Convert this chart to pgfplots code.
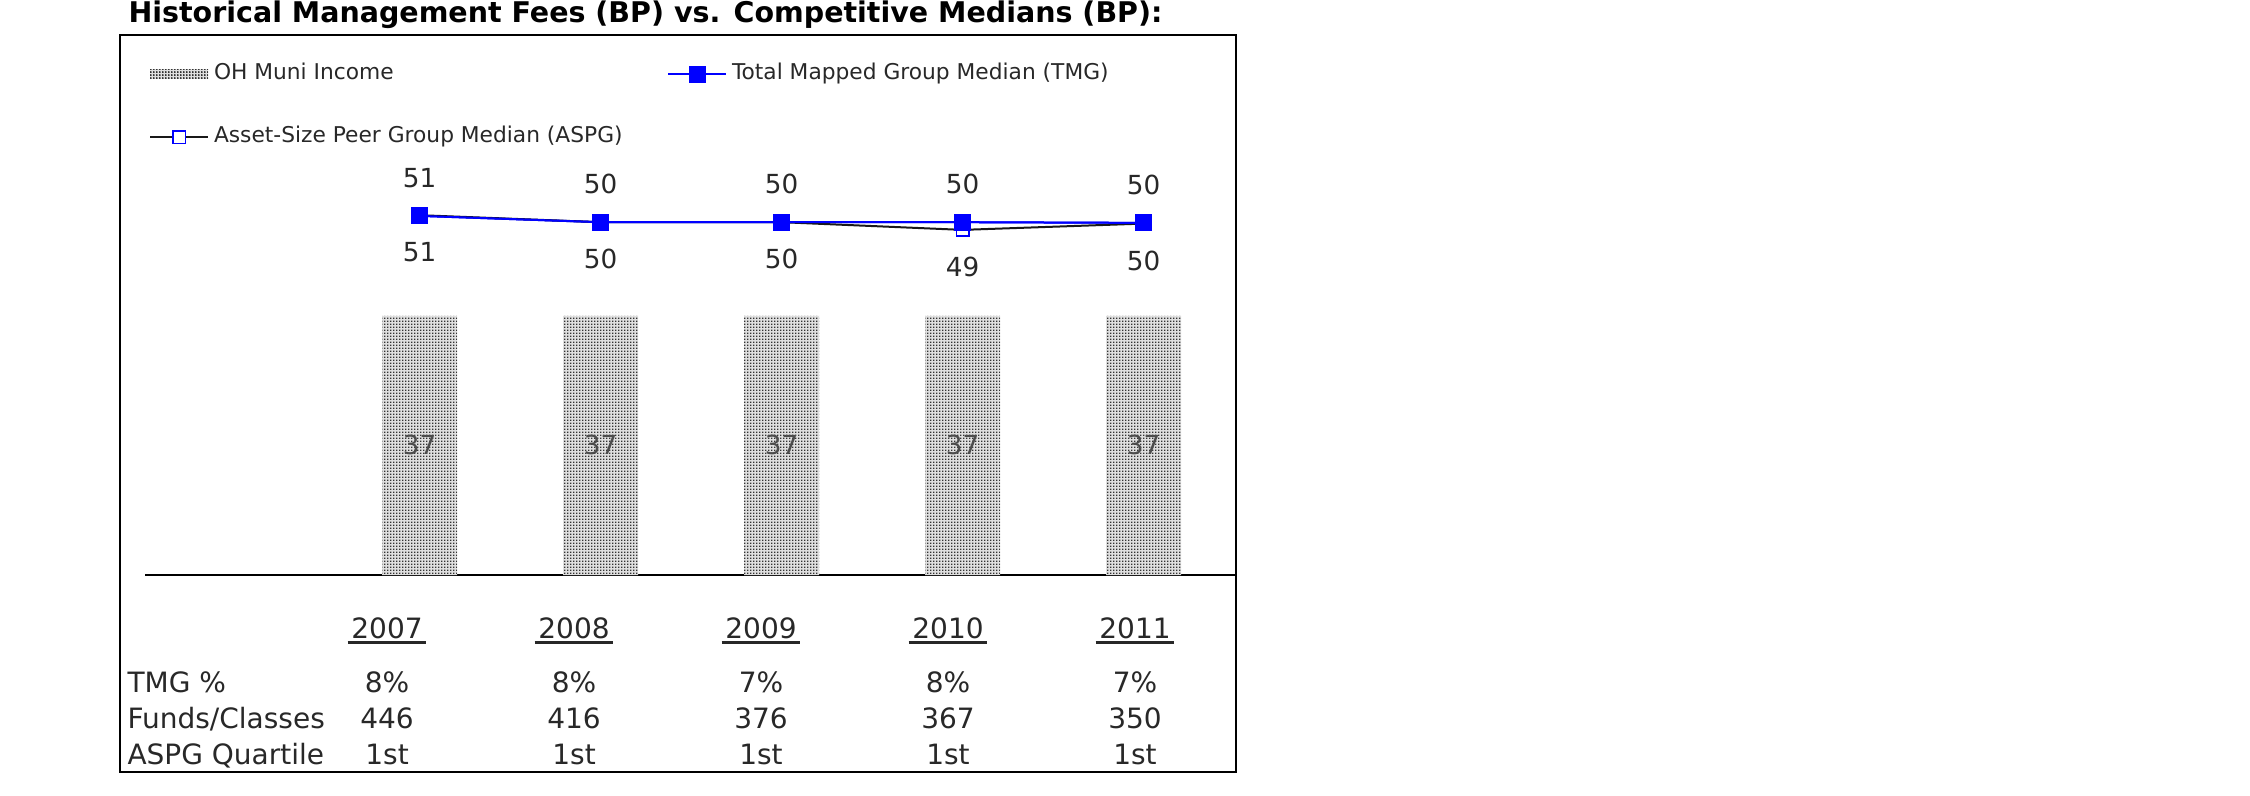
\documentclass[border=0pt]{standalone}
\usepackage{fontspec}
\setmainfont{DejaVu Sans}
\usepackage{pgfplots}
\usepackage{pgfplotstable}
\pgfplotsset{compat=1.18}
\usetikzlibrary{patterns.meta}

\definecolor{tmgblue}{RGB}{0,0,255}
\definecolor{txt}{RGB}{40,40,40}

\tikzdeclarepattern{
  name=finedots,
  type=uncolored,
  bottom left={(0pt,0pt)},
  top right={(1.2pt,1.2pt)},
  tile size={(1.2pt,1.2pt)},
  code={\pgfpathrectangle{\pgfpointorigin}{\pgfpoint{0.75pt}{0.75pt}}\pgfusepath{fill}}
}

% year with a heavy underline
\newcommand\yr[1]{\setbox0=\hbox{#1}\rlap{\kern-1.5pt\rule[-2.4pt]{\dimexpr\wd0+3pt\relax}{1.3pt}}\box0}

\pgfplotsset{
  lineleg/.style={legend image code/.code={\draw[mark repeat=2, mark phase=2, ##1] plot coordinates {(0pt,0pt) (11.6pt,0pt) (23.2pt,0pt)}; \path (25.2pt,0pt);}},
  barleg/.style={legend image code/.code={\fill[gray!25, postaction={pattern=finedots, pattern color=black!80}] (0pt,-2pt) rectangle (23.2pt,2pt); \path (25.2pt,0pt);}},
  lbl/.style={nodes near coords={\pgfmathprintnumber[fixed,precision=0,assume math mode=true]{\pgfplotspointmeta}}},
}

% fee data (bp)
\pgfplotstableread{
x tmg  aspg fund
0 51.3 51.4 37
1 50.4 50.4 37
2 50.4 50.4 37
3 50.4 49.3 37
4 50.3 50.2 37
}\fees

\begin{document}
\begin{tikzpicture}
\path[use as bounding box] (0pt,0pt) rectangle (900pt,-318.4pt);
\node[anchor=west, inner sep=0pt, font=\fontsize{11.4}{13}\selectfont\bfseries]
  at (51.2pt,-6pt) {Historical Management Fees (BP) vs. Competitive Medians (BP):};
\draw[line width=1.1pt] (48pt,-14pt) rectangle (494.4pt,-308.8pt);

\begin{axis}[
  at={(58pt,-230pt)}, anchor=south west,
  scale only axis, width=436.4pt, height=216pt,
  xmin=-1.517, xmax=4.511, ymin=0, ymax=77.14,
  clip=false,
  axis x line*=bottom, axis y line=none,
  x axis line style={line width=0.8pt,-},
  ytick=\empty,
  xtick={-0.1796,0.8536,1.8867,2.9199,3.953},
  xticklabels={
    {\yr{2007}\\[7.2pt]8\%\\446\\1st},
    {\yr{2008}\\[7.2pt]8\%\\416\\1st},
    {\yr{2009}\\[7.2pt]7\%\\376\\1st},
    {\yr{2010}\\[7.2pt]8\%\\367\\1st},
    {\yr{2011}\\[7.2pt]7\%\\350\\1st}},
  major tick length=0pt,
  xticklabel style={anchor=north, align=center, inner sep=0pt, yshift=-16.8pt,
    font=\fontsize{11.2}{14.4}\selectfont, text=txt},
  legend columns=2,
  legend cell align=left,
  legend style={at={(0.0037,0.947)}, anchor=north west, draw=none, fill=none,
    inner sep=0pt, outer sep=0pt, row sep=16.7pt, column sep=0pt,
    font=\fontsize{8.7}{10}\selectfont, text=txt,
    nodes={inner sep=0pt, text height=6.5pt, text depth=2pt, anchor=west}},
]
\addplot[ybar, bar width=30pt, draw=none, fill=gray!25,
  postaction={pattern=finedots, pattern color=black!80},
  lbl,
  every node near coord/.append style={anchor=center, yshift=-51.6pt,
    font=\fontsize{10.5}{12}\selectfont, text=black!70},
  barleg]
  table[x=x, y=fund] {\fees};
\addlegendentry{\makebox[181.2pt][l]{OH Muni Income}}

\addplot[color=tmgblue, line width=0.8pt, mark=square*, mark size=3pt,
  mark options={solid, fill=tmgblue, draw=tmgblue},
  lbl,
  every node near coord/.append style={anchor=center, yshift=15.2pt,
    font=\fontsize{10.5}{12}\selectfont, text=txt},
  lineleg]
  table[x=x, y=tmg] {\fees};
\addlegendentry{Total Mapped Group Median (TMG)}

\addplot[color=black!90, line width=0.8pt, mark=square*, mark size=2.5pt,
  mark options={solid, fill=white, draw=tmgblue, line width=0.6pt},
  lbl,
  every node near coord/.append style={anchor=center, yshift=-14.8pt,
    font=\fontsize{10.5}{12}\selectfont, text=txt},
  lineleg]
  table[x=x, y=aspg] {\fees};
\addlegendentry{\makebox[181.2pt][l]{Asset-Size Peer Group Median (ASPG)}}

% TMG line and markers on top
\addplot[color=tmgblue, line width=0.8pt, mark=square*, mark size=3pt,
  mark options={solid, fill=tmgblue}, forget plot]
  table[x=x, y=tmg] {\fees};
\end{axis}

\node[anchor=north west, align=left, inner sep=0pt,
  font=\fontsize{11.2}{14.4}\selectfont, text=txt]
  at (50.8pt,-268.4pt) {TMG \%\\Funds/Classes\\ASPG Quartile};
\end{tikzpicture}
\end{document}
